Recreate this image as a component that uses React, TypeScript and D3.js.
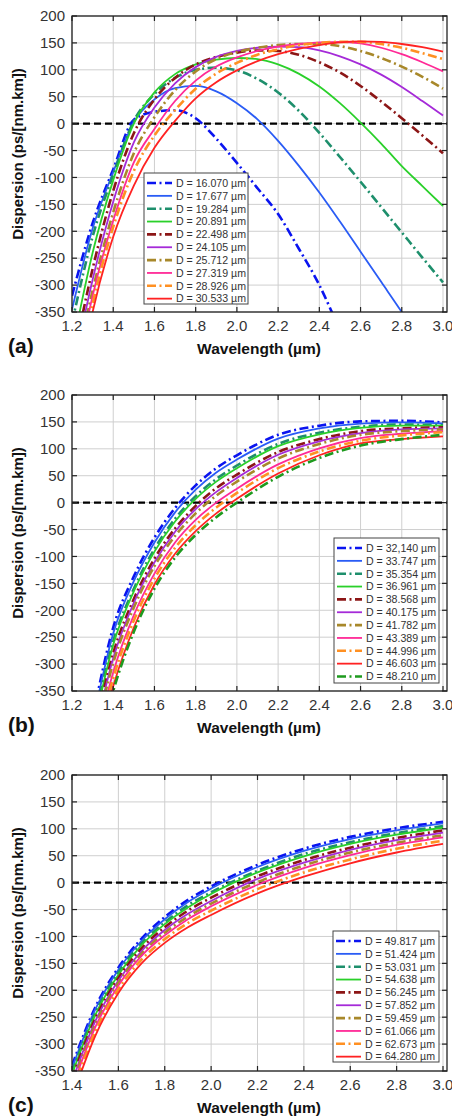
import React from 'react';
import * as d3 from 'd3';

// ---- panel (a) ----
const wlA = [1.2, 1.3, 1.4, 1.5, 1.6, 1.7, 1.8, 1.9, 2.0, 2.1, 2.2, 2.3, 2.4, 2.5, 2.6, 2.7, 2.8, 2.9, 3.0];
const namesA = ['D = 16.070 µm', 'D = 17.677 µm', 'D = 19.284 µm', 'D = 20.891 µm', 'D = 22.498 µm',
  'D = 24.105 µm', 'D = 25.712 µm', 'D = 27.319 µm', 'D = 28.926 µm', 'D = 30.533 µm'];
const dispA: (number | null)[][] = [
  [-320, -185, -85, 7, 22, 25, 10, -28, -73, -120, -168, -232, -300, -385, null, null, null, null, null],
  [-345, -195, -90, 3, 45, 66, 70, 60, 38, 8, -32, -78, -128, -182, -238, -294, -350, -408, null],
  [-370, -210, -95, 5, 55, 85, 100, 104, 99, 83, 58, 24, -17, -62, -108, -155, -202, -249, -295],
  [-420, -240, -105, 0, 58, 92, 110, 119, 122, 120, 110, 93, 69, 38, 2, -37, -79, -116, -153],
  [-450, -270, -125, -18, 45, 85, 110, 124, 132, 136, 135, 128, 114, 95, 70, 41, 10, -22, -55],
  [-470, -290, -145, -35, 30, 75, 105, 124, 135, 141, 143, 142, 136, 125, 110, 91, 68, 42, 15],
  [-490, -310, -165, -55, 12, 62, 97, 120, 133, 141, 146, 148, 148, 144, 135, 122, 106, 87, 65],
  [-510, -320, -180, -72, -10, 42, 80, 106, 123, 135, 143, 148, 151, 152, 149, 141, 129, 114, 97],
  [-530, -335, -192, -88, -22, 25, 65, 93, 113, 128, 138, 146, 150, 152, 152, 148, 141, 131, 120],
  [-550, -350, -210, -115, -45, 5, 47, 77, 99, 116, 129, 139, 146, 151, 153, 152, 148, 142, 134],
];

// ---- panel (b) ----
const wlB = [1.3, 1.4, 1.5, 1.6, 1.7, 1.8, 1.9, 2.0, 2.2, 2.4, 2.6, 2.8, 3.0];
const namesB = ['D = 32,140 µm', 'D = 33.747 µm', 'D = 35.354 µm', 'D = 36.961 µm', 'D = 38.568 µm',
  'D = 40.175 µm', 'D = 41.782 µm', 'D = 43.389 µm', 'D = 44.996 µm', 'D = 46.603 µm', 'D = 48.210 µm'];
const dispB: number[][] = [
  [-400, -232, -137, -65, -10, 32, 64, 88, 126, 143, 151, 152, 149],
  [-409, -243, -146, -74, -18, 24, 56, 80, 119, 138, 147, 149, 147],
  [-422, -258, -160, -86, -30, 12, 44, 69, 109, 130, 141, 145, 144],
  [-427, -264, -165, -91, -35, 7, 39, 64, 105, 127, 139, 143, 143],
  [-441, -280, -179, -104, -48, -6, 27, 52, 94, 118, 133, 138, 140],
  [-448, -289, -186, -111, -54, -12, 20, 46, 89, 114, 129, 136, 138],
  [-456, -298, -195, -118, -62, -20, 13, 39, 82, 109, 126, 133, 136],
  [-470, -315, -209, -132, -74, -32, 0, 26, 71, 101, 120, 128, 133],
  [-480, -326, -219, -141, -84, -42, -9, 18, 64, 95, 115, 125, 131],
  [-492, -341, -232, -152, -95, -53, -20, 7, 54, 88, 110, 118, 123],
  [-500, -350, -240, -160, -102, -60, -27, 0, 48, 83, 106, 118, 126],
];

// ---- panel (c) ----
const wlC = [1.4, 1.5, 1.6, 1.7, 1.8, 1.9, 2.0, 2.2, 2.4, 2.6, 2.8, 3.0];
const namesC = ['D = 49.817 µm', 'D = 51.424 µm', 'D = 53.031 µm', 'D = 54.638 µm', 'D = 56.245 µm',
  'D = 57.852 µm', 'D = 59.459 µm', 'D = 61.066 µm', 'D = 62.673 µm', 'D = 64.280 µm'];
const dispC: number[][] = [
  [-340, -232, -158, -104, -64, -32, -7, 33, 63, 85, 101, 113],
  [-345, -236, -162, -108, -68, -36, -11, 29, 59, 81, 97, 110],
  [-352, -243, -167, -113, -74, -42, -18, 22, 53, 75, 92, 105],
  [-356, -246, -171, -116, -77, -46, -21, 19, 49, 72, 89, 102],
  [-364, -253, -177, -122, -83, -52, -28, 12, 42, 65, 83, 97],
  [-370, -258, -182, -127, -88, -58, -34, 7, 37, 61, 79, 93],
  [-376, -264, -186, -132, -93, -63, -39, 1, 32, 56, 74, 88],
  [-382, -269, -191, -136, -98, -68, -44, -4, 27, 51, 70, 84],
  [-391, -277, -198, -143, -105, -75, -52, -12, 19, 43, 63, 78],
  [-400, -285, -205, -150, -112, -83, -60, -20, 11, 36, 56, 72],
];

const xTicksA = [1.2, 1.4, 1.6, 1.8, 2.0, 2.2, 2.4, 2.6, 2.8, 3.0];
const xTicksC = [1.4, 1.6, 1.8, 2.0, 2.2, 2.4, 2.6, 2.8, 3.0];
const yTicks = [-350, -300, -250, -200, -150, -100, -50, 0, 50, 100, 150, 200];

// line styles
const colors = ['#0a14f0', '#2a5cf5', '#1e8f6c', '#2ad02a', '#8c1616', '#a52ad8', '#a8882a', '#ff2a96', '#ff9022', '#ff2222', '#1e9a1e'];
const dashDot = [true, false, true, false, true, false, true, false, true, false, true];

const FONT = '"Liberation Sans", Arial, Helvetica, sans-serif';

type LegendBox = { x: number; y: number; w: number; h: number };

function Panel(props: {
  id: string; top: number; xDomain: [number, number]; xTicks: number[];
  wl: number[]; names: string[]; disp: (number | null)[][]; legend: LegendBox; tag: string;
}) {
  const { id, top, xDomain, xTicks, wl, names, disp, legend, tag } = props;
  const left = 72;
  const right = 447;
  const bottom = top + 296;
  const x = d3.scaleLinear().domain(xDomain).range([left, 443]);
  const y = d3.scaleLinear().domain([-350, 200]).range([bottom, top]);

  const line = d3.line<[number, number | null]>()
    .defined(d => d[1] != null)
    .x(d => x(d[0]))
    .y(d => y(d[1] as number))
    .curve(d3.curveMonotoneX);

  const rowH = 12.85;

  return (
    <g>
      <defs>
        <clipPath id={id}>
          <rect x={left} y={top} width={right - left} height={bottom - top} />
        </clipPath>
      </defs>
      <rect x={left} y={top} width={right - left} height={bottom - top} fill="#fff" />
      {/* grid */}
      {xTicks.map(t => (
        <line key={'gx' + t} x1={x(t)} x2={x(t)} y1={top} y2={bottom} stroke="#cfcfcf" strokeWidth={1} />
      ))}
      {yTicks.map(t => (
        <line key={'gy' + t} x1={left} x2={right} y1={y(t)} y2={y(t)} stroke="#cfcfcf" strokeWidth={1} />
      ))}
      {/* zero line */}
      <line x1={left} x2={right} y1={y(0)} y2={y(0)} stroke="#000" strokeWidth={2.4} strokeDasharray="7,4" />
      {/* curves */}
      <g clipPath={`url(#${id})`}>
        {disp.map((vals, i) => (
          <path key={i} d={line(wl.map((w, j) => [w, vals[j]] as [number, number | null])) || ''}
            fill="none" stroke={colors[i]} strokeWidth={dashDot[i] ? 2.6 : 1.8}
            strokeDasharray={dashDot[i] ? '9,3.5,2,3.5' : undefined} />
        ))}
      </g>
      {/* ticks */}
      {xTicks.map(t => (
        <g key={'tx' + t}>
          <line x1={x(t)} x2={x(t)} y1={bottom} y2={bottom - 5} stroke="#222" strokeWidth={1.2} />
          <line x1={x(t)} x2={x(t)} y1={top} y2={top + 5} stroke="#222" strokeWidth={1.2} />
          <text x={x(t)} y={bottom + 19} textAnchor="middle" fontSize={15} fill="#333" fontFamily={FONT}>
            {t.toFixed(1)}
          </text>
        </g>
      ))}
      {yTicks.map(t => (
        <g key={'ty' + t}>
          <line x1={left} x2={left + 5} y1={y(t)} y2={y(t)} stroke="#222" strokeWidth={1.2} />
          <line x1={right} x2={right - 5} y1={y(t)} y2={y(t)} stroke="#222" strokeWidth={1.2} />
          <text x={65} y={y(t) + 5.3} textAnchor="end" fontSize={15} fill="#333" fontFamily={FONT}>
            {t}
          </text>
        </g>
      ))}
      <rect x={left} y={top} width={right - left} height={bottom - top} fill="none" stroke="#222" strokeWidth={1.3} />
      {/* legend */}
      <rect x={legend.x} y={legend.y} width={legend.w} height={legend.h} fill="#fff" stroke="#444" strokeWidth={1} />
      {names.map((n, i) => {
        const cy = legend.y + 10 + i * rowH;
        return (
          <g key={n}>
            <line x1={legend.x + 3} x2={legend.x + 28} y1={cy} y2={cy} stroke={colors[i]}
              strokeWidth={dashDot[i] ? 2.6 : 1.8} strokeDasharray={dashDot[i] ? '9,3.5,2,3.5' : undefined} />
            <text x={legend.x + 32} y={cy + 3.8} fontSize={10.6} fill="#333" fontFamily={FONT}>{n}</text>
          </g>
        );
      })}
      {/* axis titles */}
      <text transform={`translate(23,${(top + bottom) / 2 - 10}) rotate(-90)`} textAnchor="middle"
        fontSize={15} fontWeight="bold" fill="#111" fontFamily={FONT}>Dispersion (ps/[nm.km])</text>
      <text x={259} y={bottom + 42} textAnchor="middle" fontSize={15.5} fontWeight="bold" fill="#111"
        fontFamily={FONT}>Wavelength (µm)</text>
      <text x={8} y={bottom + 41} fontSize={21} fontWeight="bold" fill="#111" fontFamily={FONT}>{tag}</text>
    </g>
  );
}

export default function App() {
  return (
    <svg width={452} height={1118} style={{ position: 'absolute', left: 0, top: 0, background: '#fff' }}>
      <Panel id="clipA" top={16} xDomain={[1.2, 3.0]} xTicks={xTicksA} wl={wlA} names={namesA} disp={dispA}
        legend={{ x: 144, y: 173, w: 104, h: 131 }} tag="(a)" />
      <Panel id="clipB" top={395} xDomain={[1.2, 3.0]} xTicks={xTicksA} wl={wlB} names={namesB} disp={dispB}
        legend={{ x: 334, y: 538, w: 105, h: 145 }} tag="(b)" />
      <Panel id="clipC" top={775} xDomain={[1.4, 3.0]} xTicks={xTicksC} wl={wlC} names={namesC} disp={dispC}
        legend={{ x: 333, y: 931, w: 106, h: 131 }} tag="(c)" />
    </svg>
  );
}
